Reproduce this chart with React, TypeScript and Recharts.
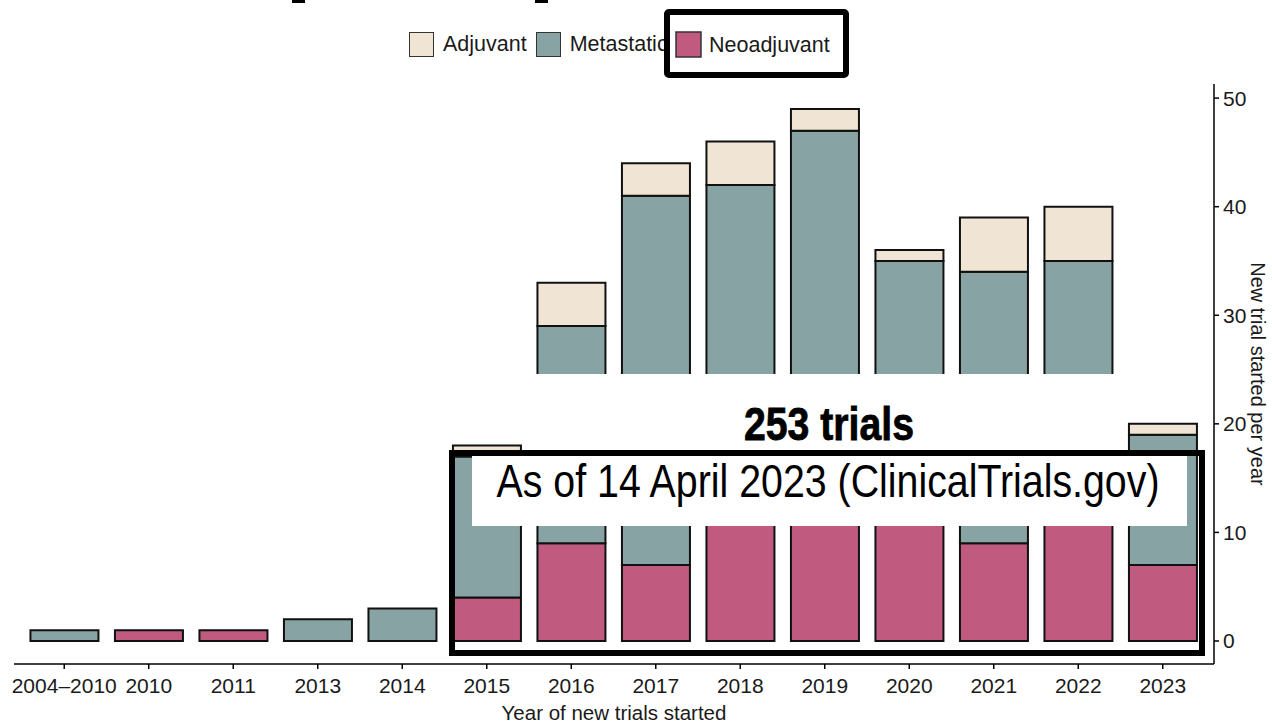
import { BarChart, Bar, XAxis, YAxis, Legend } from 'recharts';

const years = ['2004–2010', '2010', '2011', '2013', '2014', '2015', '2016', '2017', '2018', '2019', '2020', '2021', '2022', '2023'];
const neoadjuvant = [0, 1, 1, 0, 0, 4, 9, 7, 14, 15, 13, 9, 14, 7];
const metastatic = [1, 0, 0, 2, 3, 13, 20, 34, 28, 32, 22, 25, 21, 12];
const adjuvant = [0, 0, 0, 0, 0, 1, 4, 3, 4, 2, 1, 5, 5, 1];
const yTicks = [0, 10, 20, 30, 40, 50];

const series = [
  { key: 'Adjuvant', color: '#f0e4d5' },
  { key: 'Metastatic', color: '#87a3a3' },
  { key: 'Neoadjuvant', color: '#c05a7e' },
];

const data = years.map((year, i) => ({
  year,
  Neoadjuvant: neoadjuvant[i],
  Metastatic: metastatic[i],
  Adjuvant: adjuvant[i],
}));

const FONT = "'Liberation Sans', Arial, Helvetica, sans-serif";
const INK = '#1a1a1a';

const LegendBox = () => (
  <div style={{ display: 'flex', alignItems: 'center', fontFamily: FONT, fontSize: 21.5, color: INK }}>
    {series.map((s) => (
      <div key={s.key} style={{ display: 'flex', alignItems: 'center', marginRight: 9 }}>
        <div style={{ width: 25, height: 25, boxSizing: 'border-box', border: '1.5px solid #333', background: s.color, marginRight: 9 }} />
        <span>{s.key}</span>
      </div>
    ))}
  </div>
);

const App = () => {
  return (
    <div style={{ position: 'absolute', left: 0, top: 0, width: 1272, height: 724, background: '#fff' }}>
      <BarChart width={1272} height={724} data={data} margin={{ top: 84, right: 0, left: 14, bottom: 0 }} barCategoryGap="10%">
        <XAxis
          dataKey="year"
          padding={{ left: 8, right: 9 }}
          height={60}
          stroke="#000"
          strokeWidth={1.5}
          tickSize={5}
          tickMargin={9}
          tick={{ fill: INK, fontSize: 21, fontFamily: FONT }}
          interval={0}
          label={({ viewBox }: any) => (
            <text x={viewBox.x + viewBox.width / 2} y={viewBox.y + 56} textAnchor="middle" fontSize={20.5} fontFamily={FONT} fill={INK}>
              Year of new trials started
            </text>
          )}
        />
        <YAxis
          orientation="right"
          width={58}
          domain={[-2.12, 51.3]}
          allowDataOverflow
          ticks={yTicks}
          interval={0}
          stroke="#000"
          strokeWidth={1.5}
          tickSize={5}
          tickMargin={4}
          tick={{ fill: INK, fontSize: 21, fontFamily: FONT }}
          label={({ viewBox }: any) => {
            const x = viewBox.x + 37;
            const y = viewBox.y + viewBox.height / 2;
            return (
              <text x={x} y={y} transform={`rotate(90, ${x}, ${y})`} textAnchor="middle" fontSize={20} fontFamily={FONT} fill={INK}>
                New trial started per year
              </text>
            );
          }}
        />
        <Legend verticalAlign="middle" content={<LegendBox />} wrapperStyle={{ top: 32, left: 409, width: 480, height: 25 }} />
        <Bar dataKey="Neoadjuvant" stackId="a" fill="#c05a7e" stroke="#111" strokeWidth={2} isAnimationActive={false} />
        <Bar dataKey="Metastatic" stackId="a" fill="#87a3a3" stroke="#111" strokeWidth={2} isAnimationActive={false} />
        <Bar dataKey="Adjuvant" stackId="a" fill="#f0e4d5" stroke="#111" strokeWidth={2} isAnimationActive={false} />
      </BarChart>

      {/* annotations pasted over the slide */}
      <svg width={1272} height={724} style={{ position: 'absolute', left: 0, top: 0, pointerEvents: 'none' }}>
        <rect x={292} y={0} width={13} height={3} fill="#000" />
        <rect x={535} y={0} width={13} height={3} fill="#000" />
        <rect x={667} y={12} width={179} height={63} fill="#fff" stroke="#000" strokeWidth={6} rx={2} />
        <rect x={676} y={32} width={25} height={25} fill="#c05a7e" stroke="#333" strokeWidth={1.5} />
        <text x={709} y={52} fontSize={21.5} fontFamily={FONT} fill={INK}>Neoadjuvant</text>
        <rect x={526} y={374} width={596} height={80} fill="#fff" />
        <rect x={472} y={456} width={715} height={70} fill="#fff" />
        <rect x={452} y={453} width={750} height={200} fill="none" stroke="#000" strokeWidth={6} />
        <text x={829} y={440} textAnchor="middle" fontSize={46} fontWeight="bold" fontFamily="'Liberation Sans Narrow', 'Liberation Sans', Arial" textLength={170} lengthAdjust="spacingAndGlyphs" fill="#000" stroke="#000" strokeWidth={0.8}>
          253 trials
        </text>
        <text x={828} y={497} textAnchor="middle" fontSize={46} fontFamily="'Liberation Sans Narrow', 'Liberation Sans', Arial" textLength={663} lengthAdjust="spacingAndGlyphs" fill="#000">
          As of 14 April 2023 (ClinicalTrials.gov)
        </text>
      </svg>
    </div>
  );
};

export default App;
